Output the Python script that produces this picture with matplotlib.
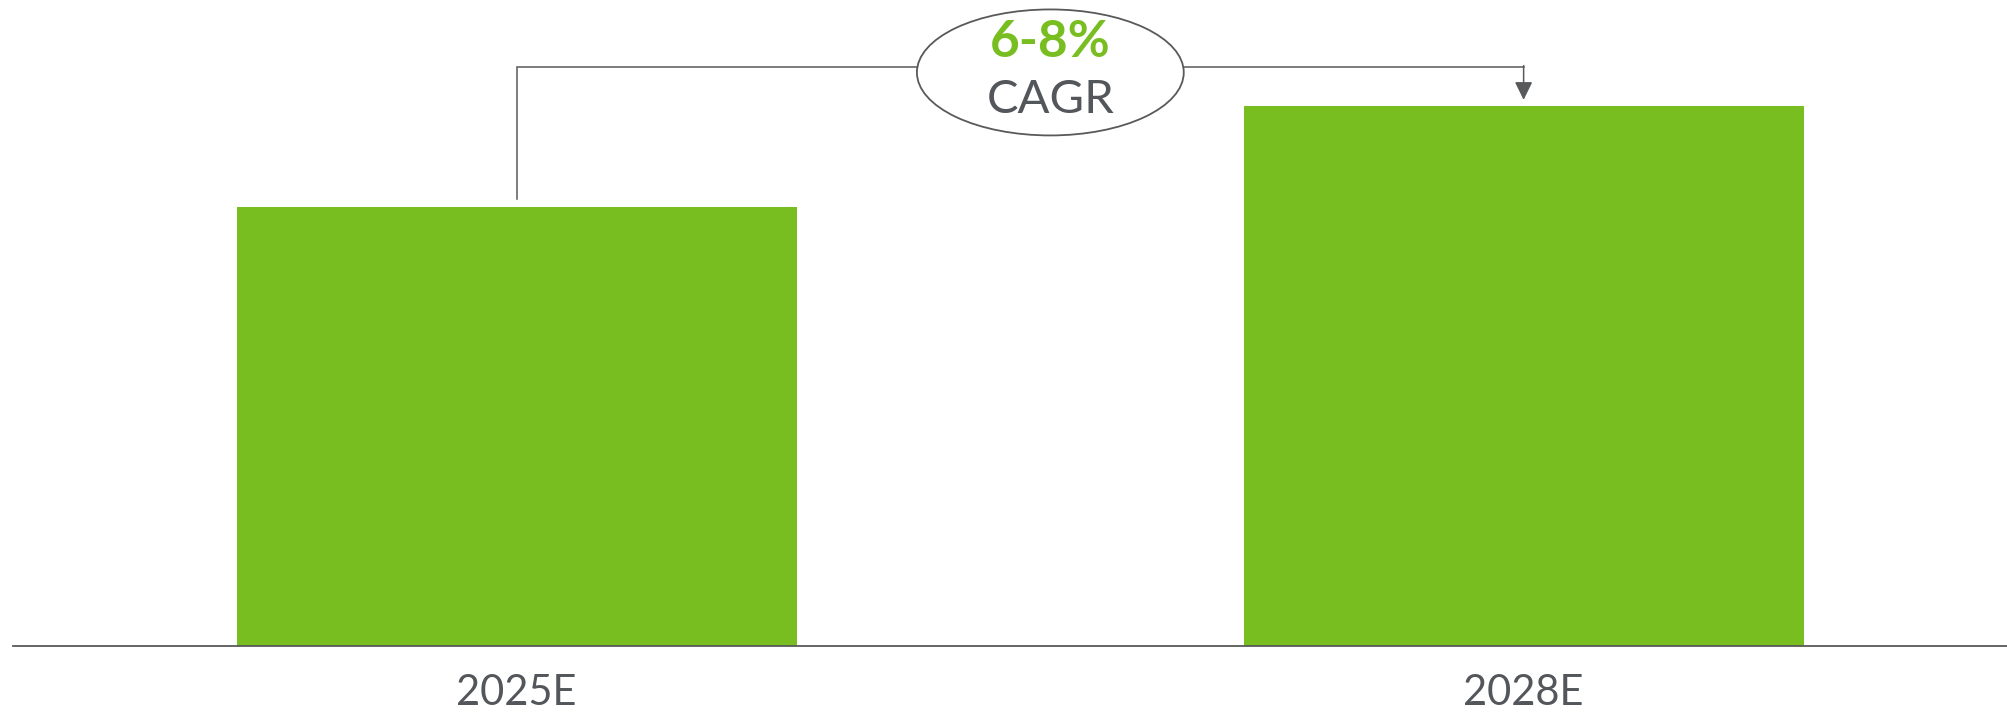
import matplotlib
matplotlib.use("Agg")
import matplotlib.pyplot as plt
from matplotlib.patches import Ellipse

# market size index, 2025E = 100
years = ["2025E", "2028E"]
values = [100, 123]
cagr_label = "6-8%"
cagr_text = "CAGR"

GREEN = "#78BE21"
GREY = "#53565A"
LINE = "#58595B"

plt.rcParams["font.family"] = ["Lato", "DejaVu Sans"]

W, H = 2007, 712
fig = plt.figure(figsize=(W / 100, H / 100), dpi=100)
ax = fig.add_axes([0, 66 / H, 1, 646 / H])

x = range(len(years))
ax.bar(x, values, width=0.556, color=GREEN, zorder=2)

ax.set_xlim(-0.513, 1.48)
ax.set_ylim(0, 147.15)

for side in ["top", "right", "left"]:
    ax.spines[side].set_visible(False)
ax.spines["bottom"].set_color(LINE)
ax.spines["bottom"].set_linewidth(1.3)
ax.spines["bottom"].set_bounds(-0.5, 1.48)
ax.set_yticks([])
ax.set_xticks(list(x))
ax.set_xticklabels(years, fontsize=30, color=GREY)
ax.tick_params(axis="x", length=0, pad=20)

# growth bracket from the first bar to the second
gap = 1.8
top = max(values) + 9
start = values[0] + gap
end = values[1] + 1.4
cx, cy = 0.53, top - 1.35
ew, eh = 0.265, 28.7

ax.plot([0, 0, cx - ew / 2], [start, top, top], color=LINE, lw=1.1,
        solid_joinstyle="miter", zorder=3)
ax.plot([cx + ew / 2, 1], [top, top], color=LINE, lw=1.1, zorder=3)
ax.annotate("", xy=(1, end), xytext=(1, top + 0.2),
            arrowprops=dict(arrowstyle="-|>,head_length=0.55,head_width=0.27",
                            color=LINE, lw=1.1, shrinkA=0, shrinkB=0,
                            mutation_scale=20), zorder=3)

ax.add_patch(Ellipse((cx, cy), ew, eh, facecolor="white", edgecolor=LINE,
                     lw=1.3, zorder=4, clip_on=False))
ax.text(cx, cy + 6.9, cagr_label, ha="center", va="center", fontsize=37,
        fontweight="bold", color=GREEN, zorder=5)
ax.text(cx, cy - 6.3, cagr_text, ha="center", va="center", fontsize=34,
        color=GREY, zorder=5)

fig.savefig("out.png", dpi=100, facecolor="white")
